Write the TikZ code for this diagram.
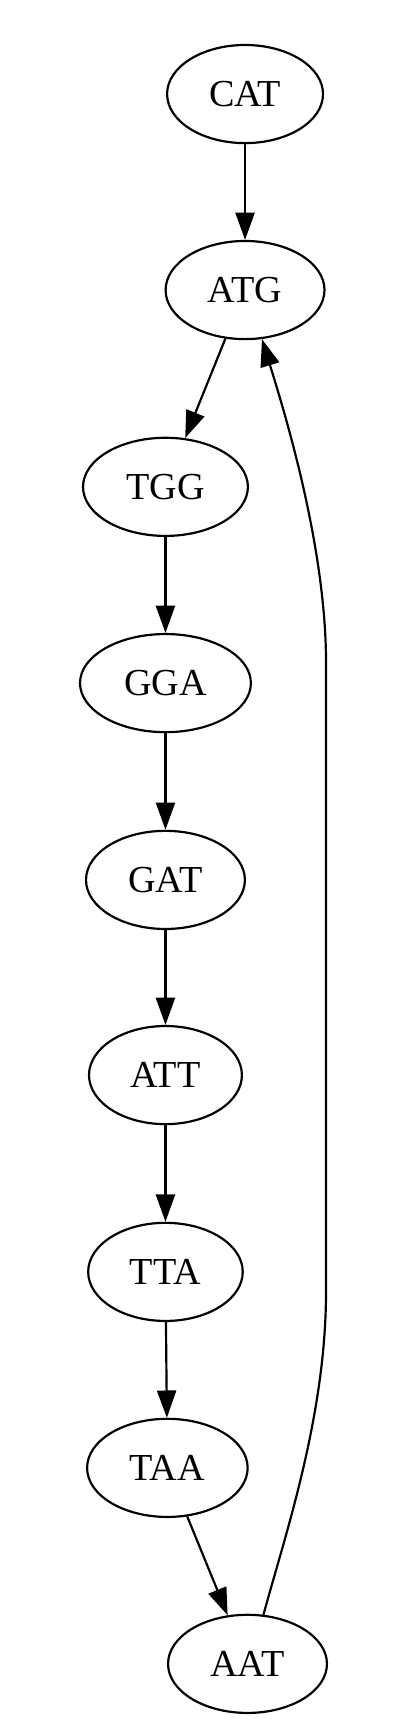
\documentclass[tikz,border=0pt]{standalone}
\usepackage{fontspec}
\setmainfont{Liberation Serif}
\usetikzlibrary{arrows.meta,shapes.geometric}

\begin{document}
\begin{tikzpicture}[x=1pt,y=1pt]
\tikzstyle{every node}+=[ellipse,draw=black,line width=0.8pt,inner xsep=7pt,inner ysep=0pt,minimum height=36pt,font=\fontsize{14}{16}\selectfont]
\tikzstyle{edge}=[black,line width=0.8pt,-{Triangle[length=10pt,width=7pt]}]
\useasboundingbox (0,0) rectangle (150.4,-635.4);
\node (CAT) at (89.9,-34.5) {CAT};
\node (ATG) at (89.9,-106.4) {ATG};
\node (TGG) at (60.7,-178.6) {TGG};
\node (GGA) at (60.7,-250.6) {GGA};
\node (GAT) at (60.7,-322.8) {GAT};
\node (ATT) at (60.7,-394.4) {ATT};
\node (TTA) at (60.7,-466.6) {TTA};
\node (TAA) at (61.4,-538.5) {TAA};
\node (AAT) at (90.8,-610.4) {AAT};
\coordinate (bk1) at (119.6,-474);
\coordinate (bk2) at (119.6,-243);
\draw [edge] (CAT) -- (ATG);
\draw [edge] (ATG) -- (TGG);
\draw [edge] (TGG) -- (GGA);
\draw [edge] (GGA) -- (GAT);
\draw [edge] (GAT) -- (ATT);
\draw [edge] (ATT) -- (TTA);
\draw [edge] (TTA) -- (TAA);
\draw [edge] (TAA) -- (AAT);
\draw [edge] (AAT.72) .. controls (104,-565) and (119.6,-520) .. (bk1) -- (bk2) .. controls (119.6,-200) and (104,-150) .. (ATG.-71);
\end{tikzpicture}
\end{document}
